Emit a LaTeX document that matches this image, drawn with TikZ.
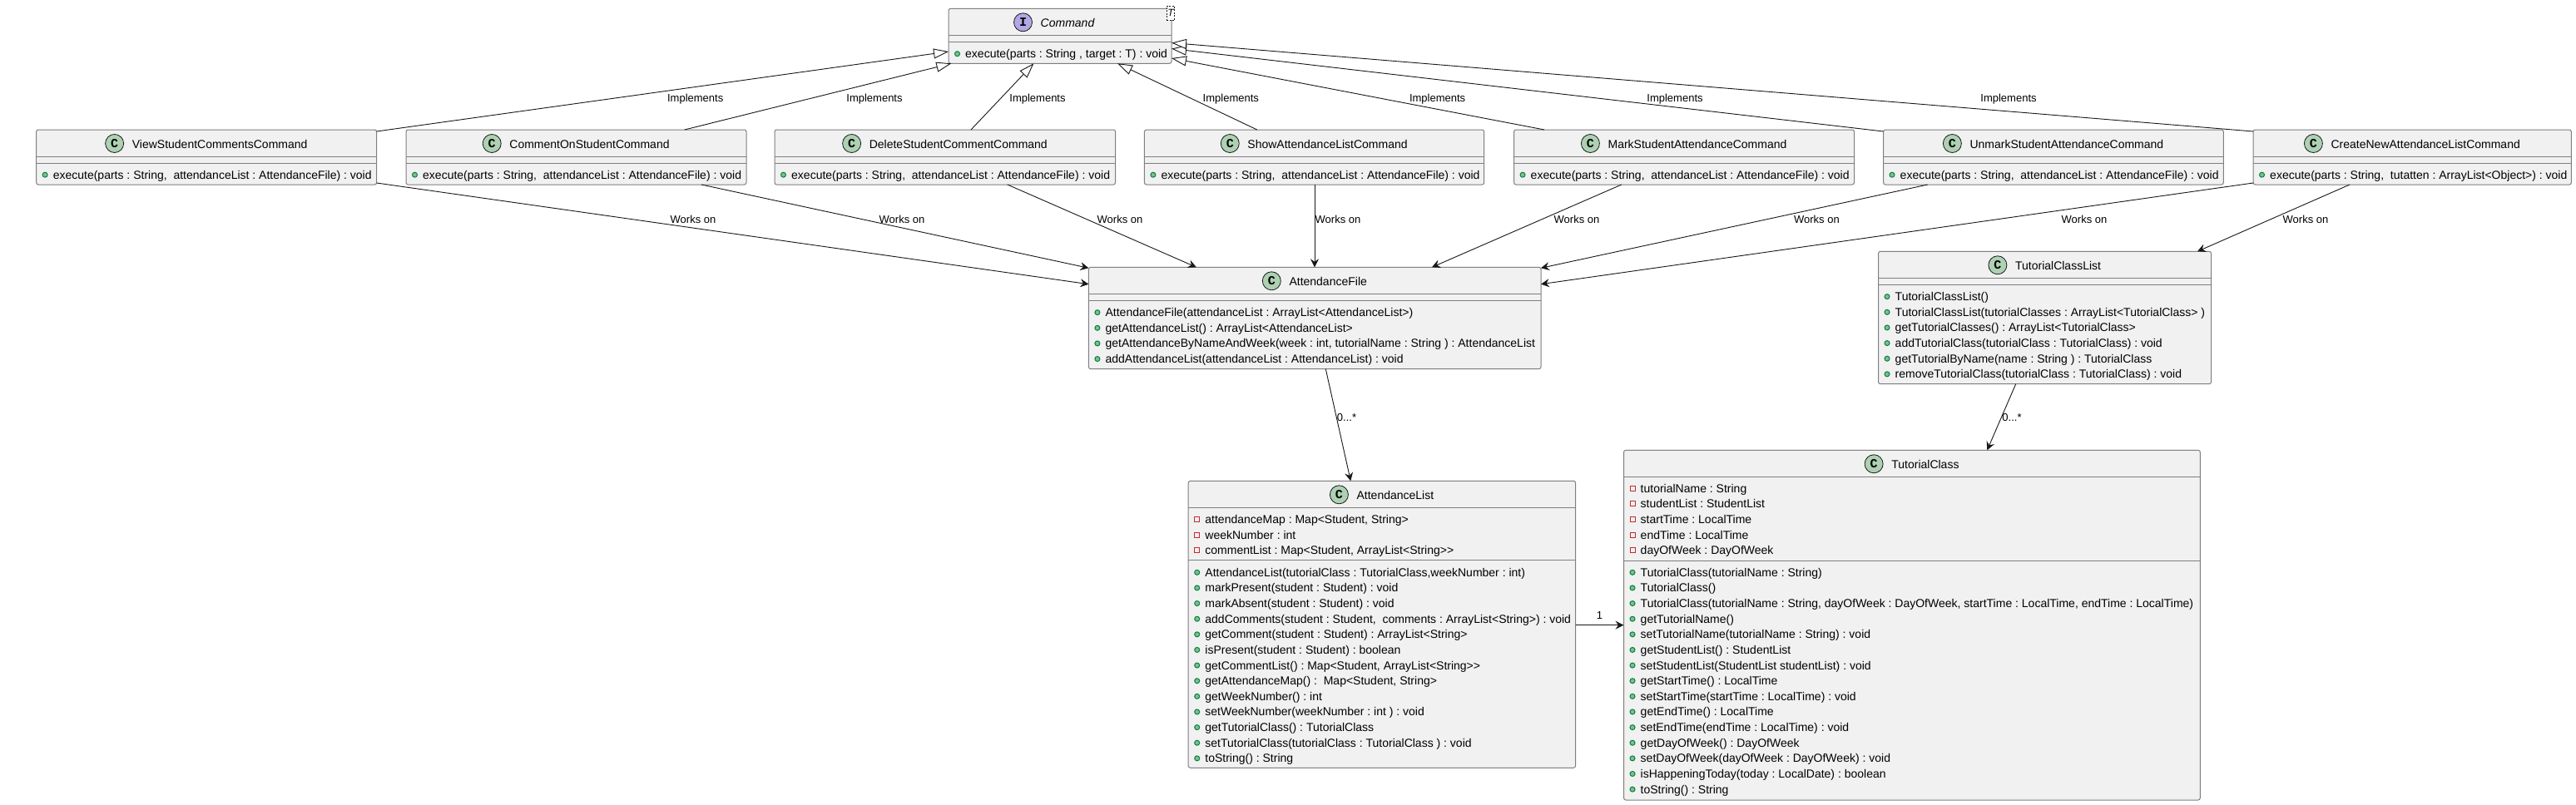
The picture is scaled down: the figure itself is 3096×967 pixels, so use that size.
\documentclass[tikz,border=0pt]{standalone}
\usepackage{fontspec}
\setmainfont{Liberation Sans}
\newfontfamily\iconfont{Liberation Mono}
\usetikzlibrary{arrows.meta}
\definecolor{boxfill}{HTML}{F1F1F1}
\definecolor{boxline}{HTML}{7F7F7F}
\definecolor{ink}{HTML}{181818}
\definecolor{classgreen}{HTML}{ADD1B2}
\definecolor{ifacepurple}{HTML}{B4A7E5}
\definecolor{dotfill}{HTML}{84BE84}
\definecolor{dotline}{HTML}{038048}
\definecolor{privred}{HTML}{C82930}
\newcommand{\memfont}{\fontsize{14}{16}\selectfont\frenchspacing}
\newcommand{\lblfont}{\fontsize{13}{15}\selectfont\frenchspacing}
\tikzset{
  classnode/.style={draw=boxline,fill=boxfill,line width=1pt,rectangle,rounded corners=2.5pt,inner sep=0pt,outer sep=0pt},
  seprule/.style={draw=boxline,line width=1pt},
  classicon/.style={circle,draw=ink,fill=classgreen,line width=0.8pt,minimum size=22pt,inner sep=0pt,font=\iconfont\bfseries\fontsize{15}{15}\selectfont},
  ifaceicon/.style={circle,draw=ink,fill=ifacepurple,line width=0.8pt,minimum size=22pt,inner sep=0pt,font=\iconfont\bfseries\fontsize{15}{15}\selectfont},
  titletext/.style={anchor=base,inner sep=0pt,font=\memfont},
  memtext/.style={anchor=base west,inner sep=0pt,font=\memfont},
  pubdot/.style={circle,draw=dotline,fill=dotfill,line width=1pt,minimum size=6pt,inner sep=0pt},
  privsq/.style={rectangle,draw=privred,line width=1pt,minimum size=6pt,inner sep=0pt},
  lbl/.style={anchor=base,inner sep=0pt,font=\lblfont,text=black},
  impl/.style={draw=ink,line width=0.9pt,-{Triangle[length=18pt,width=12pt,fill=white,line width=0.9pt]}},
  works/.style={draw=ink,line width=0.9pt,-{Stealth[length=10pt,width=10pt,inset=3.5pt]}},
  tparam/.style={draw=ink,dashed,dash pattern=on 2pt off 1.5pt,line width=0.7pt,fill=white,rectangle,inner sep=0pt,minimum width=9.7pt,minimum height=17.3pt,font=\itshape\fontsize{12}{12}\selectfont},
}
% [title shift], name, x1, y1, x2, y2, icon style, letter, title
\newcommand{\classbox}[9][0]{%
  \pgfmathsetmacro\boxw{#5-#3}%
  \pgfmathsetmacro\boxh{#6-#4}%
  \node[classnode,minimum width=\boxw pt,minimum height=\boxh pt,anchor=north west] (#2) at (#3,#4) {};
  \node[titletext] (#2-title) at ({(#3+#5)/2+16+#1},#4+22) {#9};
  \node[#7] (#2-icon) at ([shift={(-21pt,5.5pt)}]#2-title.base west) {#8};
}
% name, offset of rule below the top
\newcommand{\boxrule}[2]{%
  \draw[seprule] ([yshift=-#2pt]#1.north west) -- ([yshift=-#2pt]#1.north east);
}
\newcommand{\startmem}[3]{\xdef\memowner{#1}\xdef\memx{#2}\xdef\memy{#3}\gdef\memidx{0}}
\newcommand{\setmemy}[1]{\xdef\memy{#1}}
\newcommand{\nextmem}{\pgfmathparse{int(\memidx+1)}\xdef\memidx{\pgfmathresult}}
\newcommand{\advmem}{\pgfmathparse{\memy+18.63}\xdef\memy{\pgfmathresult}}
\newcommand{\pub}[1]{\nextmem
  \node[pubdot] (\memowner-d\memidx) at (\memx+10.5,\memy) {};
  \node[memtext] (\memowner-m\memidx) at (\memx+20,\memy+5) {#1};
  \advmem}
\newcommand{\priv}[1]{\nextmem
  \node[privsq] (\memowner-d\memidx) at (\memx+10.5,\memy) {};
  \node[memtext] (\memowner-m\memidx) at (\memx+20,\memy+5) {#1};
  \advmem}
\begin{document}
\begin{tikzpicture}[x=1pt,y=-1pt]
\useasboundingbox[fill=white] (0,0) rectangle (3096,967);

% Command
\classbox[-7]{cmd}{1140}{10.3}{1408}{76.3}{ifaceicon}{I}{\itshape Command}
\boxrule{cmd}{32}\boxrule{cmd}{40}
\startmem{cmd}{1140}{64.7}
\pub{execute(parts : String , target : T) : void}
\node[tparam] (cmdT) at (1406.9,15.7) {T};

% Command classes
\classbox{view}{43.6}{156}{452.7}{222}{classicon}{C}{ViewStudentCommentsCommand}
\boxrule{view}{32}\boxrule{view}{40}
\startmem{view}{43.6}{210.2}
\pub{execute(parts : String,~~attendanceList : AttendanceFile) : void}

\classbox{comment}{488}{156}{897}{222}{classicon}{C}{CommentOnStudentCommand}
\boxrule{comment}{32}\boxrule{comment}{40}
\startmem{comment}{488}{210.2}
\pub{execute(parts : String,~~attendanceList : AttendanceFile) : void}

\classbox{delete}{931}{156}{1340.6}{222}{classicon}{C}{DeleteStudentCommentCommand}
\boxrule{delete}{32}\boxrule{delete}{40}
\startmem{delete}{931}{210.2}
\pub{execute(parts : String,~~attendanceList : AttendanceFile) : void}

\classbox{show}{1375.4}{156}{1783.7}{222}{classicon}{C}{ShowAttendanceListCommand}
\boxrule{show}{32}\boxrule{show}{40}
\startmem{show}{1375.4}{210.2}
\pub{execute(parts : String,~~attendanceList : AttendanceFile) : void}

\classbox{mark}{1819.5}{156}{2228.5}{222}{classicon}{C}{MarkStudentAttendanceCommand}
\boxrule{mark}{32}\boxrule{mark}{40}
\startmem{mark}{1819.5}{210.2}
\pub{execute(parts : String,~~attendanceList : AttendanceFile) : void}

\classbox{unmark}{2263.5}{156}{2672.3}{222}{classicon}{C}{UnmarkStudentAttendanceCommand}
\boxrule{unmark}{32}\boxrule{unmark}{40}
\startmem{unmark}{2263.5}{210.2}
\pub{execute(parts : String,~~attendanceList : AttendanceFile) : void}

\classbox{create}{2708}{156}{3090.4}{222}{classicon}{C}{CreateNewAttendanceListCommand}
\boxrule{create}{32}\boxrule{create}{40}
\startmem{create}{2708}{210.2}
\pub{execute(parts : String,~~tutatten : ArrayList<Object>) : void}

% AttendanceFile
\classbox{afile}{1308.4}{321.3}{1852}{443.7}{classicon}{C}{AttendanceFile}
\boxrule{afile}{32}\boxrule{afile}{40}
\startmem{afile}{1308.4}{375.7}
\pub{AttendanceFile(attendanceList : ArrayList<AttendanceList>)}
\pub{getAttendanceList() : ArrayList<AttendanceList>}
\pub{getAttendanceByNameAndWeek(week : int, tutorialName : String ) : AttendanceList}
\pub{addAttendanceList(attendanceList : AttendanceList) : void}

% TutorialClassList
\classbox{tcl}{2257.5}{302.3}{2657.6}{461.7}{classicon}{C}{TutorialClassList}
\boxrule{tcl}{32}\boxrule{tcl}{40}
\startmem{tcl}{2257.5}{356.7}
\pub{TutorialClassList()}
\pub{TutorialClassList(tutorialClasses : ArrayList<TutorialClass> )}
\pub{getTutorialClasses() : ArrayList<TutorialClass>}
\pub{addTutorialClass(tutorialClass : TutorialClass) : void}
\pub{getTutorialByName(name : String ) : TutorialClass}
\pub{removeTutorialClass(tutorialClass : TutorialClass) : void}

% AttendanceList
\classbox{alist}{1428.2}{578.3}{1893.6}{923.3}{classicon}{C}{AttendanceList}
\boxrule{alist}{32}\boxrule{alist}{95}
\startmem{alist}{1428.2}{624.6}
\priv{attendanceMap : Map<Student, String>}
\priv{weekNumber : int}
\priv{commentList : Map<Student, ArrayList<String>{}>}
\setmemy{688.3}
\pub{AttendanceList(tutorialClass : TutorialClass,weekNumber : int)}
\pub{markPresent(student : Student) : void}
\pub{markAbsent(student : Student) : void}
\pub{addComments(student : Student,~~comments : ArrayList<String>) : void}
\pub{getComment(student : Student) : ArrayList<String>}
\pub{isPresent(student : Student) : boolean}
\pub{getCommentList() : Map<Student, ArrayList<String>{}>}
\pub{getAttendanceMap() :~~Map<Student, String>}
\pub{getWeekNumber() : int}
\pub{setWeekNumber(weekNumber : int ) : void}
\pub{getTutorialClass() : TutorialClass}
\pub{setTutorialClass(tutorialClass : TutorialClass ) : void}
\pub{toString() : String}

% TutorialClass
\classbox{tclass}{1951.5}{541.3}{2644.3}{962}{classicon}{C}{TutorialClass}
\boxrule{tclass}{32}\boxrule{tclass}{133}
\startmem{tclass}{1951.5}{587.3}
\priv{tutorialName : String}
\priv{studentList : StudentList}
\priv{startTime : LocalTime}
\priv{endTime : LocalTime}
\priv{dayOfWeek : DayOfWeek}
\setmemy{688.3}
\pub{TutorialClass(tutorialName : String)}
\pub{TutorialClass()}
\pub{TutorialClass(tutorialName : String, dayOfWeek : DayOfWeek, startTime : LocalTime, endTime : LocalTime)}
\pub{getTutorialName()}
\pub{setTutorialName(tutorialName : String) : void}
\pub{getStudentList() : StudentList}
\pub{setStudentList(StudentList studentList) : void}
\pub{getStartTime() : LocalTime}
\pub{setStartTime(startTime : LocalTime) : void}
\pub{getEndTime() : LocalTime}
\pub{setEndTime(endTime : LocalTime) : void}
\pub{getDayOfWeek() : DayOfWeek}
\pub{setDayOfWeek(dayOfWeek : DayOfWeek) : void}
\pub{isHappeningToday(today : LocalDate) : boolean}
\pub{toString() : String}

% Implements connectors
\draw[impl] ([yshift=-2pt]view.north east) -- ([yshift=-51.7pt]cmd.north west);
\draw[impl] ([xshift=334.8pt]comment.north west) -- ([xshift=3.3pt]cmd.south west);
\draw[impl] ([xshift=236pt]delete.north west) -- ([xshift=102.4pt]cmd.south west);
\draw[impl] ([xshift=135.4pt]show.north west) -- ([xshift=203pt]cmd.south west);
\draw[impl] ([xshift=36.5pt]mark.north west) -- ([yshift=-59.7pt]cmd.north east);
\draw[impl] ([yshift=-2pt]unmark.north west) -- ([yshift=-48.2pt]cmd.north east);
\draw[impl] ([yshift=-2pt]create.north west) -- ([yshift=-41.2pt]cmd.north east);

% Works on connectors
\draw[works] ([yshift=2pt]view.south east) -- ([yshift=-20.4pt]afile.north west);
\draw[works] ([xshift=355pt]comment.south west) -- ([yshift=-1pt]afile.north west);
\draw[works] ([xshift=279.8pt]delete.south west) -- ([xshift=129.4pt]afile.north west);
\draw[works] ([xshift=204.6pt]show.south west) -- ([xshift=271.6pt]afile.north west);
\draw[works] ([xshift=129.3pt]mark.south west) -- ([xshift=412.6pt]afile.north west);
\draw[works] ([xshift=53.2pt]unmark.south west) -- ([yshift=-1pt]afile.north east);
\draw[works] ([yshift=2pt]create.south west) -- ([yshift=-20.4pt]afile.north east);
\draw[works] ([xshift=116pt]create.south west) -- ([xshift=383.5pt]tcl.north west);
\draw[works] ([xshift=284.9pt]afile.south west) -- ([xshift=195.1pt]alist.north west);
\draw[works] ([xshift=165.2pt]tcl.south west) -- ([xshift=436.8pt]tclass.north west);
\draw[works] ([yshift=-173.4pt]alist.north east) -- ([yshift=-210.4pt]tclass.north west);

% Connector labels
\node[lbl] (li1) at (835.7,122) {Implements};
\node[lbl] (li2) at (1051,122) {Implements};
\node[lbl] (li3) at (1247,122) {Implements};
\node[lbl] (li4) at (1479.3,122) {Implements};
\node[lbl] (li5) at (1727.6,122) {Implements};
\node[lbl] (li6) at (2013,122) {Implements};
\node[lbl] (li7) at (2414,122) {Implements};
\node[lbl] (lw1) at (833,268.7) {Works on};
\node[lbl] (lw2) at (1084,268.7) {Works on};
\node[lbl] (lw3) at (1346,268.7) {Works on};
\node[lbl] (lw4) at (1608,268.7) {Works on};
\node[lbl] (lw5) at (1895,268.7) {Works on};
\node[lbl] (lw6) at (2183.4,268.7) {Works on};
\node[lbl] (lw7) at (2505,268.7) {Works on};
\node[lbl] (lw8) at (2771,268.7) {Works on};
\node[lbl] (lm1) at (1618.5,506.5) {0...*};
\node[lbl] (lm2) at (2418,506.5) {0...*};
\node[lbl] (lone) at (1922.5,744.3) {1};
\end{tikzpicture}
\end{document}
